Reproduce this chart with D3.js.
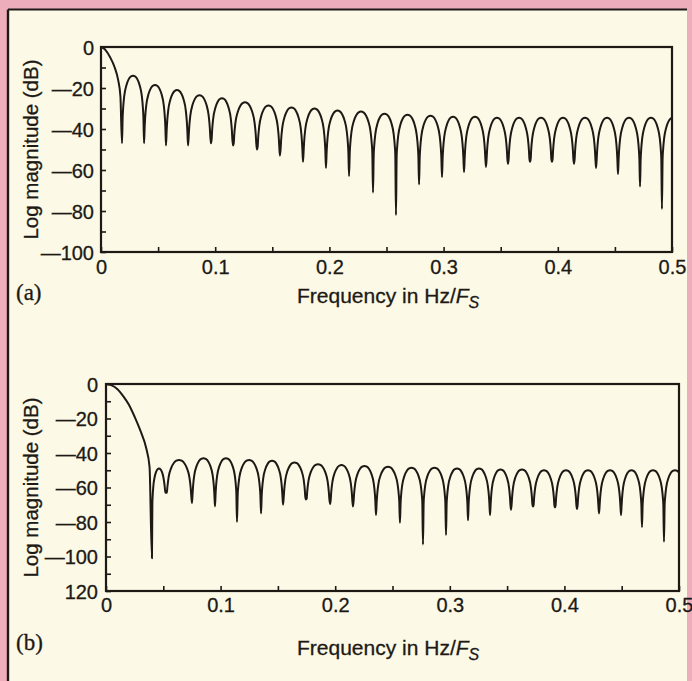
<!DOCTYPE html>
<html>
<head>
<meta charset="utf-8">
<script src="https://cdn.jsdelivr.net/npm/d3@7"></script>
<style>
  html, body { margin: 0; padding: 0; background: #eeadba; }
  svg { display: block; }
  .tick text { font-family: "Liberation Sans", Arial, sans-serif; font-size: 20px; fill: #1d1a16; stroke: #1d1a16; stroke-width: 0.3px; }
  .title { font-family: "Liberation Sans", Arial, sans-serif; font-size: 21px; fill: #1d1a16; stroke: #1d1a16; stroke-width: 0.3px; }
  .ytitle { font-size: 20.5px; }
  .tag { font-family: "Liberation Serif", "Times New Roman", serif; font-size: 23px; fill: #1d1a16; stroke: #1d1a16; stroke-width: 0.3px; }
</style>
</head>
<body>
<svg id="chart" width="692" height="681"></svg>
<script>
// ---- data ----
const freqMinorTicks = [0, 0.05, 0.1, 0.15, 0.2, 0.25, 0.3, 0.35, 0.4, 0.45, 0.5];
const freqLabels = ["0", "", "0.1", "", "0.2", "", "0.3", "", "0.4", "", "0.5"];

const dbTicksA = [0, -10, -20, -30, -40, -50, -60, -70, -80, -90, -100];
const dbLabelsA = ["0", "", "\u201420", "", "\u201440", "", "\u201460", "", "\u201480", "", "\u2014100"];
const dbTicksB = [0, -10, -20, -30, -40, -50, -60, -70, -80, -90, -100, -110, -120];
const dbLabelsB = ["0", "", "\u201420", "", "\u201440", "", "\u201460", "", "\u201480", "", "\u2014100", "", "120"];

// (a) main lobe, then nulls (freq, depth) and the sidelobe peak after each null
const mainLobeA = [[0, 0], [0.004, -1.5], [0.008, -5], [0.012, -10], [0.015, -16], [0.017, -24]];
const nullFreqA = [0.0184, 0.0377, 0.0569, 0.0762, 0.0963, 0.1156, 0.1366, 0.1567, 0.1769, 0.1970,
  0.2172, 0.2382, 0.2583, 0.2785, 0.2986, 0.3179, 0.3371, 0.3564, 0.3757, 0.3949,
  0.4142, 0.4335, 0.4527, 0.4720, 0.4912];
const nullDbA = [-47, -47, -48, -48, -47, -48, -50, -53, -56, -59,
  -63, -71, -82, -67, -63.5, -61, -58.5, -57, -56, -56,
  -57, -59, -62, -68, -79];
const peakDbA = [-14, -18.5, -21, -23.5, -25, -27, -28.5, -29.5, -30, -31,
  -31.5, -32.5, -33, -33.5, -34, -34, -34.5, -34.5, -34.5, -34.5,
  -34.5, -34.5, -34.5, -34.5, -34.5];

// (b)
const mainLobeB = [[0, 0], [0.005, -0.8], [0.01, -3], [0.015, -7], [0.02, -12], [0.025, -19],
  [0.03, -27], [0.035, -37], [0.038, -48]];
const nullFreqB = [0.0401, 0.0524, 0.0750, 0.0951, 0.1143, 0.1353, 0.1545, 0.1745, 0.1955, 0.2155,
  0.2356, 0.2565, 0.2766, 0.2967, 0.3159, 0.3351, 0.3534, 0.3726, 0.3918, 0.4110,
  0.4302, 0.4494, 0.4677, 0.4869];
const nullDbB = [-101, -63, -69, -71, -80, -75, -70, -67, -69.5, -71,
  -76, -80.5, -93, -87.5, -79, -76, -73, -71, -71.5, -72.5,
  -75, -76, -83, -91.5];
const peakDbB = [-49, -44, -43, -43, -44, -44.5, -45.5, -46.5, -47, -47.5,
  -48, -48.5, -48.5, -49, -49, -49.5, -49.5, -50, -50, -50,
  -50, -50, -50, -50];

// arch of one sidelobe: fraction of lobe width, dB below its peak
const lobeShape = [[0.03, -20], [0.05, -16], [0.1, -10], [0.2, -4.6], [0.3, -1.8], [0.4, -0.4], [0.5, 0],
  [0.6, -0.4], [0.7, -1.8], [0.8, -4.6], [0.9, -10], [0.95, -16], [0.97, -20]];

// ---- drawing ----
const svg = d3.select("#chart");
const ink = "#1d1a16";

// cream panel with the dark scan edge on top and left
svg.append("rect").attr("x", 8).attr("y", 9.5).attr("width", 679).attr("height", 672).attr("fill", "#fcf9e7");
svg.append("line").attr("x1", 8).attr("x2", 687).attr("y1", 9.5).attr("y2", 9.5)
  .attr("stroke", ink).attr("stroke-width", 2.2);
svg.append("line").attr("x1", 8).attr("x2", 8).attr("y1", 9.5).attr("y2", 681)
  .attr("stroke", ink).attr("stroke-width", 2.4);

function buildCurve(mainLobe, nulls, depths, peaks) {
  const pts = mainLobe.slice();
  nulls.forEach((f0, i) => {
    pts.push([f0, depths[i]]);
    const f1 = i + 1 < nulls.length ? nulls[i + 1] : f0 + (f0 - nulls[i - 1]);
    lobeShape.forEach(([t, drop]) => {
      const edge = t < 0.5 ? depths[i] : (i + 1 < depths.length ? depths[i + 1] : depths[i]);
      pts.push([f0 + t * (f1 - f0), Math.max(peaks[i] + drop, edge)]);
    });
  });
  return pts;
}

function drawPlot(cfg) {
  const x = d3.scaleLinear().domain([0, 0.5]).range([cfg.left, cfg.right]);
  const y = d3.scaleLinear().domain([0, cfg.dbMin]).range([cfg.top, cfg.bottom]);
  const g = svg.append("g");

  const clipId = "clip-" + cfg.name;
  g.append("clipPath").attr("id", clipId).append("rect")
    .attr("x", cfg.left).attr("y", cfg.top - 2)
    .attr("width", cfg.right - cfg.left).attr("height", cfg.bottom - cfg.top + 2);

  // x axis, ticks pointing inward
  const xAxis = g.append("g")
    .attr("transform", "translate(0," + cfg.bottom + ")")
    .call(d3.axisBottom(x).tickValues(freqMinorTicks).tickSize(-5).tickSizeOuter(0).tickPadding(cfg.xPad)
      .tickFormat((d, i) => freqLabels[i]));
  // y axis
  const yAxis = g.append("g")
    .attr("transform", "translate(" + cfg.left + ",0)")
    .call(d3.axisLeft(y).tickValues(cfg.dbTicks).tickSize(-5).tickSizeOuter(0).tickPadding(cfg.yPad)
      .tickFormat((d, i) => cfg.dbLabels[i]));
  [xAxis, yAxis].forEach(a => {
    a.attr("font-family", null).attr("font-size", null).attr("color", ink);
    a.select(".domain").remove();
    a.selectAll(".tick line").attr("stroke-width", 1.6);
  });
  yAxis.selectAll(".tick text").attr("dy", "0.35em");

  // frame
  g.append("rect")
    .attr("x", cfg.left).attr("y", cfg.top)
    .attr("width", cfg.right - cfg.left).attr("height", cfg.bottom - cfg.top)
    .attr("fill", "none").attr("stroke", ink).attr("stroke-width", 2.2);

  // response curve
  const line = d3.line().x(d => x(d[0])).y(d => y(d[1])).curve(d3.curveMonotoneX);
  g.append("path")
    .datum(cfg.points)
    .attr("clip-path", "url(#" + clipId + ")")
    .attr("fill", "none")
    .attr("stroke", ink)
    .attr("stroke-width", 2)
    .attr("stroke-linejoin", "round")
    .attr("d", line);

  // titles
  const xt = g.append("text").attr("class", "title")
    .attr("x", cfg.xTitleX).attr("y", cfg.xTitleY);
  xt.append("tspan").text("Frequency in Hz/");
  xt.append("tspan").attr("font-style", "italic").text("F");
  xt.append("tspan").attr("font-style", "italic").attr("font-size", "16px").attr("dy", 5).text("S");

  g.append("text").attr("class", "title ytitle")
    .attr("text-anchor", "middle")
    .attr("transform", "translate(" + cfg.yTitleX + "," + ((cfg.top + cfg.bottom) / 2) + ") rotate(-90)")
    .text("Log magnitude (dB)");

  g.append("text").attr("class", "tag").attr("x", 16).attr("y", cfg.tagY).text(cfg.tag);
}

drawPlot({
  name: "a", left: 101, right: 672, top: 47, bottom: 252, dbMin: -100,
  dbTicks: dbTicksA, dbLabels: dbLabelsA, xPad: 8, yPad: 7,
  points: buildCurve(mainLobeA, nullFreqA, nullDbA, peakDbA),
  xTitleX: 297, xTitleY: 303, yTitleX: 38, tag: "(a)", tagY: 300
});

drawPlot({
  name: "b", left: 106, right: 679, top: 384, bottom: 591, dbMin: -120,
  dbTicks: dbTicksB, dbLabels: dbLabelsB, xPad: 7, yPad: 8,
  points: buildCurve(mainLobeB, nullFreqB, nullDbB, peakDbB),
  xTitleX: 297, xTitleY: 655, yTitleX: 38, tag: "(b)", tagY: 650
});
</script>
</body>
</html>
